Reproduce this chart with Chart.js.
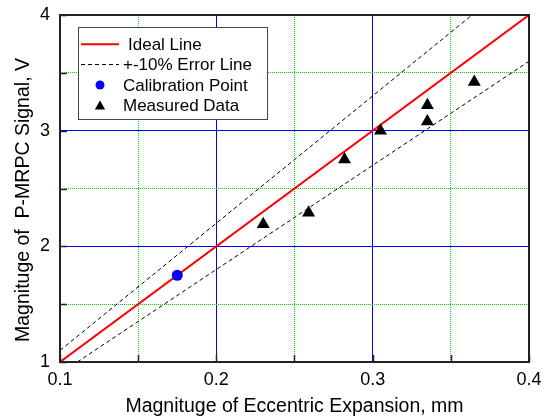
<!DOCTYPE html>
<html>
<head>
<meta charset="utf-8">
<script src="https://cdn.jsdelivr.net/npm/chart.js@4/dist/chart.umd.min.js"></script>
<style>
  html, body { margin: 0; padding: 0; background: #fff; }
  #wrap { width: 550px; height: 419px; }
</style>
</head>
<body>
<div id="wrap"><canvas id="c" width="550" height="419"></canvas></div>
<script>
// ---- data ----
const idealX = [0.1, 0.4];
const idealY = [1, 4];
const upperX = [0.1, 0.3636];
const upperY = [1.1, 4];
const lowerX = [0.1111, 0.4];
const lowerY = [1, 3.6];
const calX = [0.175];
const calY = [1.75];
const measX = [0.230, 0.259, 0.282, 0.305, 0.335, 0.335, 0.365];
const measY = [2.19, 2.29, 2.75, 3.00, 3.22, 3.08, 3.42];
const xTicks = [0.1, 0.2, 0.3, 0.4];
const yTicks = [1, 2, 3, 4];
const legendLabels = ['Ideal Line', '+-10% Error Line', 'Calibration Point', 'Measured Data'];
const xTitle = 'Magnituge of Eccentric Expansion, mm';
const yTitle = 'Magnituge of  P-MRPC Signal, V';

const pts = (xs, ys) => xs.map((x, i) => ({ x: x, y: ys[i] }));
const FONT = "'Liberation Sans', Arial, sans-serif";

function isMajor(v, mult) {
  return Math.abs(v * mult - Math.round(v * mult)) < 1e-6;
}

const framePlugin = {
  id: 'frame',
  afterDatasetsDraw(chart) {
    const { ctx, chartArea: a, scales } = chart;
    ctx.save();
    ctx.strokeStyle = '#222';
    ctx.lineWidth = 1.5;
    ctx.beginPath();
    scales.x.ticks.forEach(t => {
      const px = Math.round(scales.x.getPixelForValue(t.value)) + 0.5;
      ctx.moveTo(px, a.bottom);
      ctx.lineTo(px, a.bottom - 7);
    });
    scales.y.ticks.forEach(t => {
      const py = Math.round(scales.y.getPixelForValue(t.value)) + 0.5;
      ctx.moveTo(a.left, py);
      ctx.lineTo(a.left + 7, py);
    });
    ctx.stroke();
    ctx.strokeStyle = '#222';
    ctx.lineWidth = 2;
    ctx.strokeRect(a.left, a.top, a.right - a.left, a.bottom - a.top);
    ctx.restore();
  },
  afterDraw(chart) {
    const { ctx } = chart;
    ctx.save();
    ctx.fillStyle = '#000';
    ctx.font = '19.5px ' + FONT;
    ctx.textAlign = 'center';
    ctx.textBaseline = 'middle';
    ctx.translate(24, 200);
    ctx.rotate(-Math.PI / 2);
    ctx.fillText(yTitle, 0, 0);
    ctx.restore();

    ctx.save();
    ctx.fillStyle = '#fff';
    ctx.fillRect(78.5, 27.5, 189, 92);
    ctx.strokeStyle = '#444';
    ctx.lineWidth = 1;
    ctx.strokeRect(78.5, 27.5, 189, 92);
    const rows = [44.3, 64.3, 85, 105];
    ctx.strokeStyle = '#ff0000';
    ctx.lineWidth = 2;
    ctx.beginPath(); ctx.moveTo(81, rows[0]); ctx.lineTo(119, rows[0]); ctx.stroke();
    ctx.strokeStyle = '#000';
    ctx.lineWidth = 1;
    ctx.setLineDash([4, 3]);
    ctx.beginPath(); ctx.moveTo(81, 64.5); ctx.lineTo(119, 64.5); ctx.stroke();
    ctx.setLineDash([]);
    ctx.fillStyle = '#0000ff';
    ctx.beginPath(); ctx.arc(100, rows[2], 4.5, 0, Math.PI * 2); ctx.fill();
    ctx.fillStyle = '#000';
    const r = 6;
    ctx.beginPath();
    ctx.moveTo(100, rows[3] + 1.5 - r);
    ctx.lineTo(100 + r * 0.866, rows[3] + 1.5 + r / 2);
    ctx.lineTo(100 - r * 0.866, rows[3] + 1.5 + r / 2);
    ctx.closePath(); ctx.fill();
    ctx.fillStyle = '#000';
    ctx.font = '17px ' + FONT;
    ctx.textBaseline = 'middle';
    ctx.textAlign = 'left';
    const tx = [128, 123, 123, 123];
    legendLabels.forEach((t, i) => ctx.fillText(t, tx[i], rows[i] + 1));
    ctx.restore();
  }
};

new Chart(document.getElementById('c'), {
  type: 'scatter',
  data: {
    datasets: [
      { label: legendLabels[3], data: pts(measX, measY), pointStyle: 'triangle', pointRadius: 7.5,
        backgroundColor: '#000', borderColor: '#000', borderWidth: 0, order: 0 },
      { label: legendLabels[2], data: pts(calX, calY), pointStyle: 'circle', pointRadius: 5.5,
        backgroundColor: '#0000ff', borderColor: '#0000ff', borderWidth: 0, order: 1 },
      { label: legendLabels[0], data: pts(idealX, idealY), showLine: true, pointRadius: 0,
        borderColor: '#ff0000', borderWidth: 2, order: 2 },
      { label: legendLabels[1], data: pts(upperX, upperY), showLine: true, pointRadius: 0,
        borderColor: '#000', borderWidth: 1, borderDash: [4, 3], order: 3 },
      { label: legendLabels[1] + ' (lower)', data: pts(lowerX, lowerY), showLine: true, pointRadius: 0,
        borderColor: '#000', borderWidth: 1, borderDash: [4, 3], order: 3 }
    ]
  },
  options: {
    responsive: false,
    animation: false,
    layout: { padding: { top: 15, right: 21, left: 0, bottom: 0 } },
    plugins: { legend: { display: false }, tooltip: { enabled: false } },
    scales: {
      x: {
        type: 'linear', min: 0.1, max: 0.4,
        afterFit(s) { s.height = 57; s.paddingLeft = 0; s.paddingRight = 0; },
        border: { display: false, dash: c => isMajor(c.tick.value, 10) ? [] : [1, 1] },
        grid: {
          drawTicks: false,
          color: c => {
            const v = c.tick.value;
            if (Math.abs(v - 0.1) < 1e-6 || Math.abs(v - 0.4) < 1e-6) return 'rgba(0,0,0,0)';
            return isMajor(v, 10) ? '#0000ff' : '#00dd00';
          },
          lineWidth: 1
        },
        ticks: {
          stepSize: 0.05, autoSkip: false, maxRotation: 0, padding: 7,
          color: '#000', font: { family: FONT, size: 18 },
          callback: v => {
            const hit = xTicks.find(t => Math.abs(t - v) < 1e-6);
            return hit !== undefined ? hit.toFixed(1) : '';
          }
        },
        title: { display: true, text: xTitle, color: '#000', font: { family: FONT, size: 19.5 },
                 padding: { top: 0, bottom: 1 } }
      },
      y: {
        type: 'linear', min: 1, max: 4,
        afterFit(s) { s.width = 60; s.paddingTop = 0; s.paddingBottom = 0; },
        border: { display: false, dash: c => isMajor(c.tick.value, 1) ? [] : [1, 1] },
        grid: {
          drawTicks: false,
          color: c => {
            const v = c.tick.value;
            if (Math.abs(v - 1) < 1e-6 || Math.abs(v - 4) < 1e-6) return 'rgba(0,0,0,0)';
            return isMajor(v, 1) ? '#0000ff' : '#00dd00';
          },
          lineWidth: 1
        },
        ticks: {
          stepSize: 0.5, autoSkip: false, padding: 10,
          color: '#000', font: { family: FONT, size: 18 },
          callback: v => {
            const hit = yTicks.find(t => Math.abs(t - v) < 1e-6);
            return hit !== undefined ? String(hit) : '';
          }
        },
        title: { display: false }
      }
    }
  },
  plugins: [framePlugin]
});
</script>
</body>
</html>
